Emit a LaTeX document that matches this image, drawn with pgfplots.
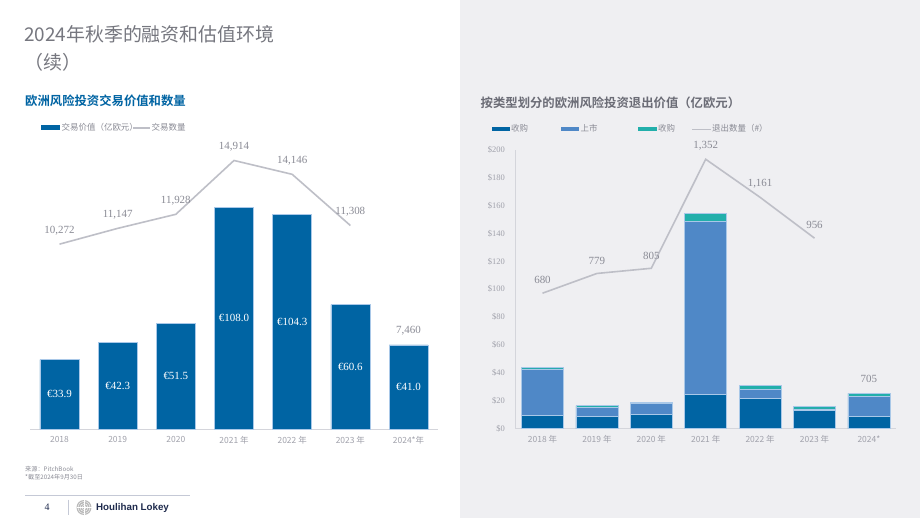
\documentclass[border=0pt]{standalone}
\usepackage{fontspec}
\usepackage{pgfplots}
\usepackage{pgfplotstable}
\pgfplotsset{compat=1.18}
\setmainfont{Liberation Serif}
\newfontfamily\cjk{Noto Sans CJK SC}
\newfontfamily\cjkb{Noto Sans CJK SC Bold}
\newfontfamily\hsans{Liberation Sans}

\definecolor{hlblue}{HTML}{0064A3}
\definecolor{midblue}{HTML}{4F88C7}
\definecolor{exitteal}{HTML}{22AFAB}
\definecolor{linegray}{HTML}{BEBFC7}
\definecolor{panel}{HTML}{EFEFF2}
\definecolor{titlegray}{HTML}{76777F}
\definecolor{subgray}{HTML}{6B6C76}
\definecolor{labgray}{HTML}{8A8B95}
\definecolor{tickgray}{HTML}{A0A1AB}
\definecolor{axisgray}{HTML}{D4D5DB}
\definecolor{edgeblue}{HTML}{A9C8E8}
\definecolor{navy}{HTML}{1F2B4D}
\definecolor{rulegray}{HTML}{C5C9D6}

% deal value (EUR bn) and deal count
\pgfplotstableread{
x value
0 33.9
1 42.3
2 51.5
3 108.0
4 104.3
5 60.6
6 41.0
}\dealvalue
\pgfplotstableread{
x count lab
0 10272 10,272
1 11147 11,147
2 11928 11,928
3 14914 14,914
4 14146 14,146
5 11308 11,308
}\dealcount
% exit value by type and exit count
\pgfplotstableread{
x buyout ipo acq
0 9.3 33.5 0.9
1 8.6 6.7 1.2
2 10.5 7.9 0.5
3 24.7 124.0 5.7
4 22.0 6.2 3.1
5 12.9 1.4 1.8
6 8.6 14.6 2.2
}\exitvalue
\pgfplotstableread{
x count lab
0 680 680
1 779 779
2 805 805
3 1352 1,352
4 1161 1,161
5 956 956
}\exitcount

\pgfplotsset{
  slide axis/.style={
    anchor=south west, scale only axis, clip=false,
    xmin=-0.5, xmax=6.5, ymin=0,
    major tick length=0pt,
  },
  count labels/.style={
    nodes near coords, point meta=explicit symbolic,
    every node near coord/.append style={font=\fontsize{11}{13}\selectfont,
      text=labgray, anchor=south, yshift=5bp},
  },
}

\begin{document}
\begin{tikzpicture}
\fill[white] (0,0) rectangle (920bp,-518bp);
\fill[panel] (460bp,0) rectangle (920bp,-518bp);

\begin{scope}[x=1bp,y=-1bp]
  % page title
  \node[anchor=west, inner sep=0, text=titlegray, font=\cjk\fontsize{19}{21}\selectfont] at (24,34.5) {2024年秋季的融资和估值环境};
  \node[anchor=west, inner sep=0, text=titlegray, font=\cjk\fontsize{19}{21}\selectfont] at (24,62) {（续）};
  % left panel heading and legend
  \node[anchor=west, inner sep=0, text=hlblue, font=\cjkb\fontsize{12.4}{14}\selectfont] at (25,101) {欧洲风险投资交易价值和数量};
  \fill[hlblue] (41,125.3) rectangle (60,130);
  \node[anchor=west, inner sep=0, text=labgray, font=\cjk\fontsize{8.5}{9}\selectfont] at (61.5,127.3) {交易价值（亿欧元）};
  \draw[linegray, line width=1.5pt] (133,128) -- (150,128);
  \node[anchor=west, inner sep=0, text=labgray, font=\cjk\fontsize{8.5}{9}\selectfont] at (151.5,127.3) {交易数量};
  % right panel heading and legend
  \node[anchor=west, inner sep=0, text=subgray, font=\cjkb\fontsize{12.4}{14}\selectfont] at (480.5,102.3) {按类型划分的欧洲风险投资退出价值（亿欧元）};
  \fill[hlblue] (491.7,126.6) rectangle (510,131);
  \node[anchor=west, inner sep=0, text=labgray, font=\cjk\fontsize{8.5}{9}\selectfont] at (511,128.5) {收购};
  \fill[midblue] (561,126.6) rectangle (579.3,131);
  \node[anchor=west, inner sep=0, text=labgray, font=\cjk\fontsize{8.5}{9}\selectfont] at (580.5,128.5) {上市};
  \fill[exitteal] (638,126.6) rectangle (656.7,131);
  \node[anchor=west, inner sep=0, text=labgray, font=\cjk\fontsize{8.5}{9}\selectfont] at (658,128.5) {收购};
  \draw[linegray, line width=1.5pt] (692,129.3) -- (710.7,129.3);
  \node[anchor=west, inner sep=0, text=labgray, font=\cjk\fontsize{8.5}{9}\selectfont] at (712,128.5) {退出数量（\#）};
  % footer
  \node[anchor=west, inner sep=0, text=labgray, font=\cjk\fontsize{6.2}{7}\selectfont] at (25,469) {来源：PitchBook};
  \node[anchor=west, inner sep=0, text=labgray, font=\cjk\fontsize{6.2}{7}\selectfont] at (25,477.5) {*截至2024年9月30日};
  \draw[rulegray, line width=0.8pt] (25,495.5) -- (190,495.5);
  \node[inner sep=0, text=navy, font=\fontsize{10}{11}\selectfont] at (47,507) {4};
  \draw[rulegray, line width=0.8pt] (68.5,499.5) -- (68.5,515);
  \fill[gray!55] (84,507.5) circle (7.5);
  \foreach \r in {2,4,6} \draw[white, line width=0.4pt] (84,507.5) circle (\r);
  \draw[white, line width=0.4pt] (76.5,507.5) -- (91.5,507.5) (84,500) -- (84,515);
  \node[anchor=west, inner sep=0, text=navy, font=\hsans\bfseries\fontsize{9.8}{11}\selectfont] at (96,507.5) {Houlihan Lokey};
\end{scope}

% ---- left chart: deal value bars ----
\begin{axis}[slide axis,
  at={(30.4bp,-429.3bp)}, width=407.2bp, height=289.3bp, ymax=140.57,
  axis y line=none, axis x line*=bottom,
  x axis line style={axisgray, line width=1.2pt, -},
  xtick={0,...,6}, xticklabels={2018,2019,2020,2021 年,2022 年,2023 年,2024*年},
  xticklabel style={font=\cjk\fontsize{8.5}{10}\selectfont, text=tickgray, yshift=-3.5bp},
  ybar, bar width=39bp,
]
\addplot[fill=hlblue, draw=edgeblue, line width=0.6pt,
  visualization depends on={y \as \rawy},
  nodes near coords={€\pgfmathprintnumber[fixed,fixed zerofill,precision=1,assume math mode=true]{\pgfplotspointmeta}},
  every node near coord/.append style={anchor=center, text=white,
    font=\fontsize{11}{13}\selectfont, shift={(axis direction cs:0,-\rawy/2)}},
] table[x=x,y=value] {\dealvalue};
\node[anchor=south, text=labgray, font=\fontsize{11}{13}\selectfont, yshift=6bp] at (axis cs:6,41.0) {7,460};
\end{axis}

% ---- left chart: deal count line ----
\begin{axis}[slide axis,
  at={(30.4bp,-429.3bp)}, width=407.2bp, height=289.3bp, ymax=16050,
  hide axis,
]
\addplot[linegray, line width=1.6pt, count labels] table[x=x,y=count,meta=lab] {\dealcount};
\end{axis}

% ---- right chart: exit value stacked bars ----
\begin{axis}[slide axis,
  at={(515.3bp,-428.7bp)}, width=380.8bp, height=279bp, ymax=200,
  axis lines*=left, axis line style={axisgray, line width=1pt, -},
  ytick={0,20,...,200},
  yticklabel={\$\pgfmathprintnumber[assume math mode=true]{\tick}},
  yticklabel style={font=\fontsize{8.5}{10}\selectfont, text=tickgray, xshift=-7bp},
  xtick={0,...,6}, xticklabels={2018 年,2019 年,2020 年,2021 年,2022 年,2023 年,2024*},
  xticklabel style={font=\cjk\fontsize{8.5}{10}\selectfont, text=tickgray, yshift=-3.5bp},
  ybar stacked, bar width=42bp,
]
\addplot[fill=hlblue, draw=edgeblue, line width=0.5pt] table[x=x,y=buyout] {\exitvalue};
\addplot[fill=midblue, draw=edgeblue, line width=0.5pt] table[x=x,y=ipo] {\exitvalue};
\addplot[fill=exitteal, draw=edgeblue, line width=0.5pt] table[x=x,y=acq] {\exitvalue};
\node[anchor=south, text=labgray, font=\fontsize{11}{13}\selectfont, yshift=7bp] at (axis cs:6,25.4) {705};
\end{axis}

% ---- right chart: exit count line ----
\begin{axis}[slide axis,
  at={(515.3bp,-428.7bp)}, width=380.8bp, height=279bp, ymax=1400,
  hide axis,
]
\addplot[linegray, line width=1.6pt, count labels] table[x=x,y=count,meta=lab] {\exitcount};
\end{axis}

\pgfresetboundingbox
\useasboundingbox (0,0) rectangle (920bp,-518bp);
\end{tikzpicture}
\end{document}
